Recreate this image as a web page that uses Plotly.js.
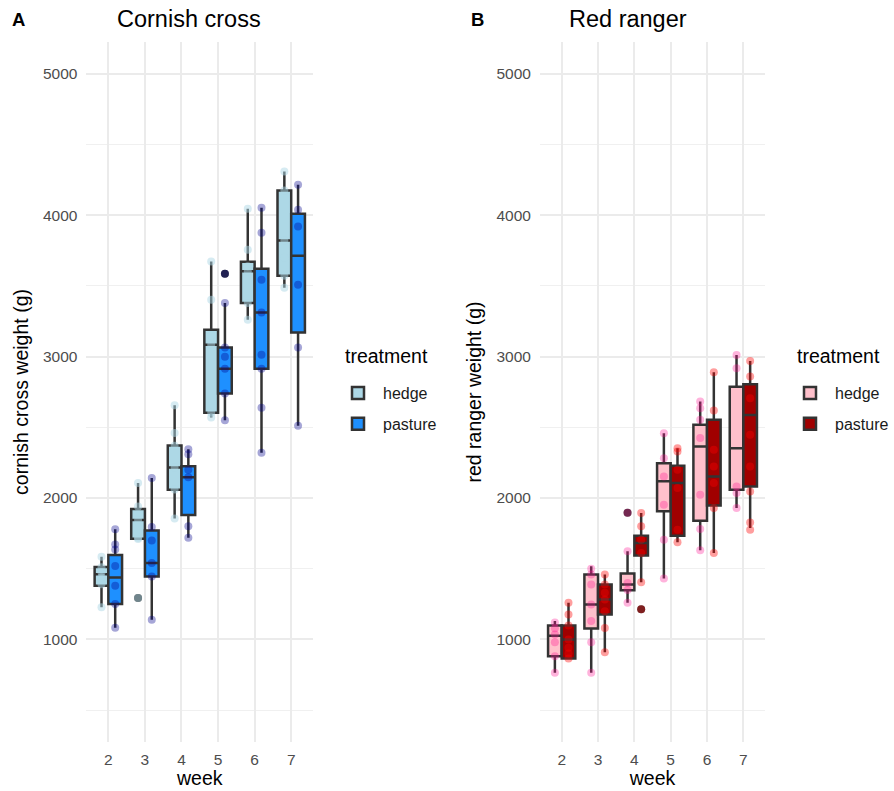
<!DOCTYPE html>
<html>
<head>
<meta charset="utf-8">
<script src="https://cdn.plot.ly/plotly-3.0.1.min.js"></script>
<style>
  html, body { margin: 0; padding: 0; background: #ffffff; }
  #chart { width: 894px; height: 791px; }
</style>
</head>
<body>
<div id="chart"></div>
<script>
// ---------------- data ----------------
const WEEKS = [2, 3, 4, 5, 6, 7];
const WEEK_LABELS = ['2', '3', '4', '5', '6', '7'];
const TREATMENTS = ['hedge', 'pasture'];
const Y_TICKS = [1000, 2000, 3000, 4000, 5000];

// Panel A: Cornish cross - box statistics per week
const ccHedgeQ1  = [1380, 1712, 2058, 2604, 3380, 3572];
const ccHedgeMed = [1462, 1845, 2216, 3085, 3603, 3822];
const ccHedgeQ3  = [1512, 1922, 2372, 3191, 3671, 4175];
const ccHedgeLo  = [1228, 1705, 1855, 2569, 3261, 3487];
const ccHedgeHi  = [1585, 2106, 2656, 3673, 4045, 4310];

const ccPastQ1  = [1250, 1445, 1880, 2739, 2915, 3170];
const ccPastMed = [1438, 1540, 2148, 2915, 3313, 3714];
const ccPastQ3  = [1598, 1771, 2225, 3064, 3621, 4010];
const ccPastLo  = [1083, 1140, 1720, 2550, 2321, 2512];
const ccPastHi  = [1780, 2141, 2346, 3380, 4053, 4215];

const ccHedgeOutliers = [[], [1293], [], [], [], []];
const ccPastOutliers  = [[], [], [], [3587], [], []];

// Panel A: individual bird weights per week
const ccHedgePts = [
  [1228, 1390, 1440, 1475, 1510, 1585],
  [1293, 1710, 1720, 1845, 1940, 2106],
  [1855, 2060, 2216, 2370, 2460, 2656],
  [2569, 2604, 3085, 3150, 3403, 3673],
  [3261, 3380, 3603, 3640, 3756, 4045],
  [3487, 3572, 3700, 3822, 4175, 4310]
];
const ccPastPts = [
  [1083, 1250, 1380, 1520, 1636, 1671, 1780],
  [1140, 1445, 1540, 1700, 1795, 2141],
  [1720, 1800, 2148, 2200, 2310, 2346],
  [2550, 2739, 2915, 3000, 3064, 3380, 3587],
  [2321, 2638, 2915, 3014, 3313, 3544, 3876, 4053],
  [2512, 3064, 3509, 3921, 4039, 4215]
];

// Panel B: Red ranger - box statistics per week
const rrHedgeQ1  = [882, 1078, 1348, 1906, 1840, 2059];
const rrHedgeMed = [1027, 1247, 1388, 2118, 2365, 2353];
const rrHedgeQ3  = [1099, 1459, 1466, 2247, 2518, 2788];
const rrHedgeLo  = [764, 764, 1259, 1432, 1631, 1929];
const rrHedgeHi  = [1130, 1518, 1623, 2459, 2682, 3012];

const rrPastQ1  = [866, 1177, 1593, 1734, 1948, 2082];
const rrPastMed = [1000, 1283, 1682, 2106, 2153, 2588];
const rrPastQ3  = [1099, 1389, 1734, 2228, 2553, 2805];
const rrPastLo  = [866, 910, 1405, 1687, 1612, 1788];
const rrPastHi  = [1259, 1459, 1894, 2353, 2889, 2970];

const rrHedgeOutliers = [[], [], [1897], [], [], []];
const rrPastOutliers  = [[], [], [1214], [], [], []];

const rrHedgePts = [
  [764, 882, 980, 1035, 1080, 1120],
  [764, 981, 1130, 1247, 1389, 1459, 1500],
  [1259, 1350, 1400, 1623, 1897],
  [1432, 1706, 1953, 2153, 2282, 2459],
  [1631, 1781, 2024, 2424, 2553, 2635, 2682],
  [1929, 2035, 2082, 2918, 3012]
];
const rrPastPts = [
  [866, 900, 941, 1000, 1099, 1177, 1259],
  [910, 1082, 1200, 1283, 1330, 1389, 1459],
  [1214, 1405, 1612, 1706, 1800, 1894],
  [1687, 1776, 2071, 2200, 2330, 2353],
  [1612, 1929, 2106, 2224, 2341, 2619, 2889],
  [1776, 1828, 2047, 2224, 2447, 2706, 2859, 2970]
];

// ---------------- styling ----------------
const FONT = 'Liberation Sans, Arial, Helvetica, sans-serif';
const BOX_W = 0.375;
const DODGE = BOX_W / 2;
const OUTLINE = '#333333';
const GRID = '#ebebeb';

function flatten(ptsByWeek, off) {
  const xs = [], ys = [];
  ptsByWeek.forEach((arr, i) => arr.forEach(v => { xs.push(WEEKS[i] + off); ys.push(v); }));
  return { xs, ys };
}

function boxTrace(name, q1, med, q3, lo, hi, off, fill, xa, ya, legend) {
  return {
    type: 'box', name: name, legendgroup: legend + name,
    x: WEEKS.map(w => w + off), q1: q1, median: med, q3: q3,
    lowerfence: lo, upperfence: hi,
    width: BOX_W, fillcolor: fill,
    line: { color: OUTLINE, width: 2.5 },
    whiskerwidth: 0, boxpoints: false,
    xaxis: xa, yaxis: ya, legend: legend, hoverinfo: 'skip'
  };
}

function pointTrace(pts, off, color, size, xa, ya) {
  const f = flatten(pts, off);
  return {
    type: 'scatter', mode: 'markers', x: f.xs, y: f.ys,
    marker: { color: color, size: size, line: { width: 0 } },
    xaxis: xa, yaxis: ya, showlegend: false, hoverinfo: 'skip'
  };
}

const traces = [
  boxTrace(TREATMENTS[0], ccHedgeQ1, ccHedgeMed, ccHedgeQ3, ccHedgeLo, ccHedgeHi, -DODGE, '#add8e6', 'x', 'y', 'legend'),
  boxTrace(TREATMENTS[1], ccPastQ1, ccPastMed, ccPastQ3, ccPastLo, ccPastHi, DODGE, '#1e90ff', 'x', 'y', 'legend'),
  pointTrace(ccHedgeOutliers, -DODGE, OUTLINE, 8, 'x', 'y'),
  pointTrace(ccPastOutliers, DODGE, OUTLINE, 8, 'x', 'y'),
  pointTrace(ccHedgePts, -DODGE, 'rgba(173,216,230,0.5)', 8, 'x', 'y'),
  pointTrace(ccPastPts, DODGE, 'rgba(0,0,139,0.35)', 8, 'x', 'y'),

  boxTrace(TREATMENTS[0], rrHedgeQ1, rrHedgeMed, rrHedgeQ3, rrHedgeLo, rrHedgeHi, -DODGE, '#ffc0cb', 'x2', 'y2', 'legend2'),
  boxTrace(TREATMENTS[1], rrPastQ1, rrPastMed, rrPastQ3, rrPastLo, rrPastHi, DODGE, '#a00000', 'x2', 'y2', 'legend2'),
  pointTrace(rrHedgeOutliers, -DODGE, OUTLINE, 8, 'x2', 'y2'),
  pointTrace(rrPastOutliers, DODGE, OUTLINE, 8, 'x2', 'y2'),
  pointTrace(rrHedgePts, -DODGE, 'rgba(255,20,147,0.32)', 8, 'x2', 'y2'),
  pointTrace(rrPastPts, DODGE, 'rgba(255,0,0,0.38)', 8, 'x2', 'y2')
];

const W = 894, H = 791;
const px = v => v / W;
const py = v => (H - v) / H;

function xAxis(domain, anchor) {
  return {
    domain: domain, anchor: anchor, range: [1.4, 7.6],
    tickvals: WEEKS, ticktext: WEEK_LABELS,
    showgrid: true, gridcolor: GRID, gridwidth: 2,
    zeroline: false, showline: false, ticks: '',
    ticklabelstandoff: 6,
    tickfont: { family: FONT, size: 15.5, color: '#4d4d4d' },
    title: { text: 'week', font: { family: FONT, size: 19.5, color: '#000000' }, standoff: 4 },
    automargin: false, fixedrange: true
  };
}
function yAxis(domain, anchor, title) {
  return {
    domain: domain, anchor: anchor, range: [275, 5225],
    tickvals: Y_TICKS, ticktext: Y_TICKS.map(String),
    showgrid: true, gridcolor: GRID, gridwidth: 2,
    minor: { dtick: 1000, tick0: 500, showgrid: true, gridcolor: '#f0f0f0', gridwidth: 1, ticks: '' },
    zeroline: false, showline: false, ticks: '',
    ticklabelstandoff: 8,
    tickfont: { family: FONT, size: 15.5, color: '#4d4d4d' },
    title: { text: title, font: { family: FONT, size: 19.5, color: '#000000' }, standoff: 9 },
    automargin: false, fixedrange: true
  };
}

function legendCfg(x) {
  return {
    x: x, xanchor: 'left', y: py(376), yanchor: 'top',
    font: { family: FONT, size: 16, color: '#1a1a1a' },
    itemwidth: 40,
    bgcolor: 'rgba(0,0,0,0)', tracegroupgap: 7, itemclick: false, itemdoubleclick: false
  };
}

const layout = {
  width: W, height: H,
  margin: { l: 0, r: 0, t: 0, b: 0 },
  paper_bgcolor: '#ffffff', plot_bgcolor: '#ffffff',
  font: { family: FONT },
  boxmode: 'overlay',
  xaxis: xAxis([px(86.5), px(313.5)], 'y'),
  yaxis: yAxis([py(742), py(42)], 'x', 'cornish cross weight (g)'),
  xaxis2: xAxis([px(540.5), px(766)], 'y2'),
  yaxis2: yAxis([py(742), py(42)], 'x2', 'red ranger weight (g)'),
  legend: legendCfg(px(333)),
  legend2: legendCfg(px(786)),
  annotations: [
    { text: 'Cornish cross', xref: 'paper', yref: 'paper', x: px(115), y: py(19), xanchor: 'left', yanchor: 'middle', showarrow: false, font: { family: FONT, size: 23.5, color: '#000000' } },
    { text: 'Red ranger', xref: 'paper', yref: 'paper', x: px(568), y: py(19), xanchor: 'left', yanchor: 'middle', showarrow: false, font: { family: FONT, size: 23.5, color: '#000000' } },
    { text: '<b>A</b>', xref: 'paper', yref: 'paper', x: px(10), y: py(20), xanchor: 'left', yanchor: 'middle', showarrow: false, font: { family: FONT, size: 18.5, color: '#000000' } },
    { text: '<b>B</b>', xref: 'paper', yref: 'paper', x: px(470), y: py(20), xanchor: 'left', yanchor: 'middle', showarrow: false, font: { family: FONT, size: 18.5, color: '#000000' } },
    { text: 'treatment', xref: 'paper', yref: 'paper', x: px(343), y: py(356), xanchor: 'left', yanchor: 'middle', showarrow: false, font: { family: FONT, size: 19.5, color: '#000000' } },
    { text: 'treatment', xref: 'paper', yref: 'paper', x: px(796), y: py(356), xanchor: 'left', yanchor: 'middle', showarrow: false, font: { family: FONT, size: 19.5, color: '#000000' } }
  ]
};

Plotly.newPlot('chart', traces, layout, { displayModeBar: false, staticPlot: true });
</script>
</body>
</html>
